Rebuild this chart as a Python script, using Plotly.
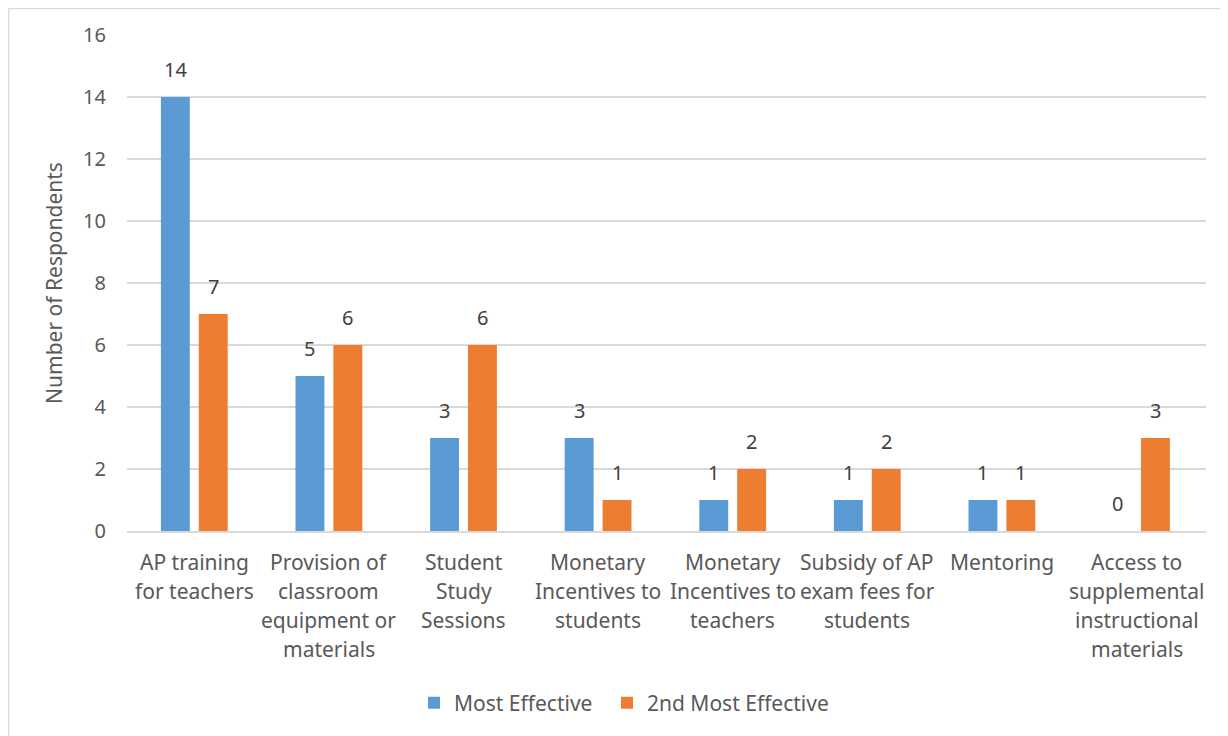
import plotly.graph_objects as go

categories = [
    "AP training<br>for teachers",
    "Provision of<br>classroom<br>equipment or<br>materials",
    "Student<br>Study<br>Sessions",
    "Monetary<br>Incentives to<br>students",
    "Monetary<br>Incentives to<br>teachers",
    "Subsidy of AP<br>exam fees for<br>students",
    "Mentoring",
    "Access to<br>supplemental<br>instructional<br>materials",
]
most_effective = [14, 5, 3, 3, 1, 1, 1, 0]
second_most = [7, 6, 6, 1, 2, 2, 1, 3]
series = [
    ("Most Effective", most_effective, "#5B9BD5", -19, "legend"),
    ("2nd Most Effective", second_most, "#ED7D31", 19, "legend2"),
]

FONT = "Noto Sans"
GRAY = "#595959"

# figure sits at an 8px page offset (body margin)
W, H = 1220, 728
L, R, T, B = 119, 22, 27, 205
pw = W - L - R
ph = H - T - B

fig = go.Figure()
for name, vals, color, dx, leg in series:
    fig.add_trace(go.Bar(
        x=categories, y=vals, name=name, legend=leg,
        marker=dict(color=color, line=dict(width=0)),
    ))
    for cat, v in zip(categories, vals):
        fig.add_annotation(
            x=cat, y=v, xref="x", yref="y", text=str(v), showarrow=False,
            xshift=dx, yshift=12, yanchor="bottom",
            font=dict(size=20, color="#404040", family=FONT),
        )

# category labels, one annotation per line
for cat in categories:
    for k, line in enumerate(cat.split("<br>")):
        fig.add_annotation(
            x=cat, y=0, xref="x", yref="y", text=line, showarrow=False,
            yanchor="middle", yshift=-30.5 - 29 * k,
            font=dict(size=21, color=GRAY, family=FONT),
        )

leg_y = (ph - (695 - T)) / ph
leg_common = dict(orientation="h", xanchor="left", y=leg_y, yanchor="middle",
                  font=dict(size=21, color=GRAY), bgcolor="rgba(0,0,0,0)")

fig.update_layout(
    width=W, height=H,
    margin=dict(l=L, r=R, t=T, b=B),
    paper_bgcolor="white", plot_bgcolor="white",
    barmode="group", bargap=0.437, bargroupgap=0.237,
    font=dict(family=FONT, color=GRAY, size=20),
    xaxis=dict(
        showticklabels=False,
        showline=True, linecolor="#D9D9D9", linewidth=2,
        ticks="", showgrid=False,
    ),
    yaxis=dict(
        range=[0, 16], dtick=2,
        tickfont=dict(size=20, color=GRAY),
        showgrid=True, gridcolor="#D9D9D9", gridwidth=1.5,
        zeroline=False, showline=False, ticks="",
        ticklabelstandoff=20,
        title=dict(text="Number of Respondents", font=dict(size=21, color=GRAY), standoff=14),
    ),
    legend=dict(x=(406 - L) / pw, **leg_common),
    legend2=dict(x=(599 - L) / pw, **leg_common),
    showlegend=True,
)

# chart border (top and left edges visible)
x0 = (0.5 - L) / pw
y0 = (ph + T - 0.5) / ph
fig.add_shape(type="line", xref="paper", yref="paper", x0=x0, x1=(W + 5 - L) / pw, y0=y0, y1=y0,
              line=dict(color="#D9D9D9", width=1.5))
fig.add_shape(type="line", xref="paper", yref="paper", x0=x0, x1=x0, y0=y0, y1=-(B + 5) / ph,
              line=dict(color="#D9D9D9", width=1.5))

fig.write_html("out.html")
